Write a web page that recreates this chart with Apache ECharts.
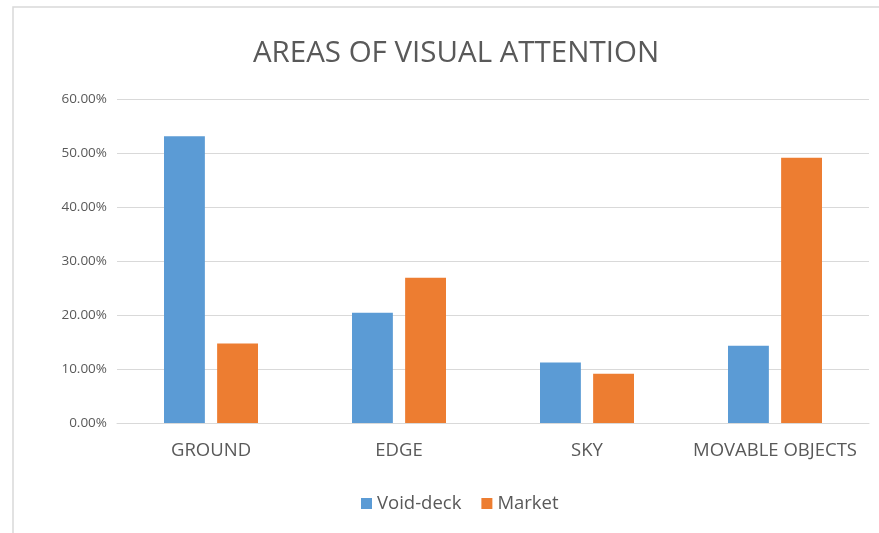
<!DOCTYPE html>
<html>
<head>
<meta charset="utf-8">
<script src="https://cdn.jsdelivr.net/npm/echarts@6/dist/echarts.min.js"></script>
<style>
  html, body { margin: 0; padding: 0; background: #fff; }
  #chart { width: 879px; height: 533px; }
</style>
</head>
<body>
<div id="chart"></div>
<script>
// Share of visual attention per area, by setting
const categories = ['GROUND', 'EDGE', 'SKY', 'MOVABLE OBJECTS'];
const voidDeck = [53.1, 20.4, 11.2, 14.3];
const market = [14.7, 26.9, 9.1, 49.1];
const yTicks = [0, 10, 20, 30, 40, 50, 60];

const textColor = '#595959';
const font = '"Open Sans", Lato, sans-serif';

const chart = echarts.init(document.getElementById('chart'));
chart.setOption({
  animation: false,
  graphic: [{
    type: 'rect',
    shape: { x: 13, y: 7, width: 900, height: 560 },
    style: { fill: 'none', stroke: '#d9d9d9', lineWidth: 1.5 },
    silent: true
  }],
  title: {
    text: 'AREAS OF VISUAL ATTENTION',
    left: 451,
    textAlign: 'center',
    top: 34,
    textStyle: { color: textColor, fontFamily: font, fontSize: 29.5, fontWeight: 'normal' }
  },
  legend: {
    data: ['Void-deck', 'Market'],
    top: 489,
    left: 356,
    itemWidth: 11,
    itemHeight: 11,
    itemGap: 20,
    icon: 'rect',
    textStyle: { color: textColor, fontFamily: font, fontSize: 18.5 }
  },
  grid: { left: 117, right: 10, top: 99, bottom: 110 },
  xAxis: {
    type: 'category',
    data: categories,
    axisLine: { lineStyle: { color: '#d9d9d9', width: 1 } },
    axisTick: { show: false },
    axisLabel: { color: textColor, fontFamily: font, fontSize: 18.5, margin: 18, interval: 0 }
  },
  yAxis: {
    type: 'value',
    min: yTicks[0],
    max: yTicks[yTicks.length - 1],
    interval: 10,
    axisLine: { show: false },
    axisTick: { show: false },
    splitLine: { lineStyle: { color: '#d9d9d9', width: 1 } },
    axisLabel: {
      color: textColor, fontFamily: font, fontSize: 13.5, margin: 10,
      formatter: v => v.toFixed(2) + '%'
    }
  },
  series: [
    {
      name: 'Void-deck', type: 'bar', data: voidDeck,
      itemStyle: { color: '#5b9bd5' },
      barGap: '30%', barCategoryGap: '50%'
    },
    {
      name: 'Market', type: 'bar', data: market,
      itemStyle: { color: '#ed7d31' },
      barGap: '30%', barCategoryGap: '50%'
    }
  ]
});
</script>
</body>
</html>
